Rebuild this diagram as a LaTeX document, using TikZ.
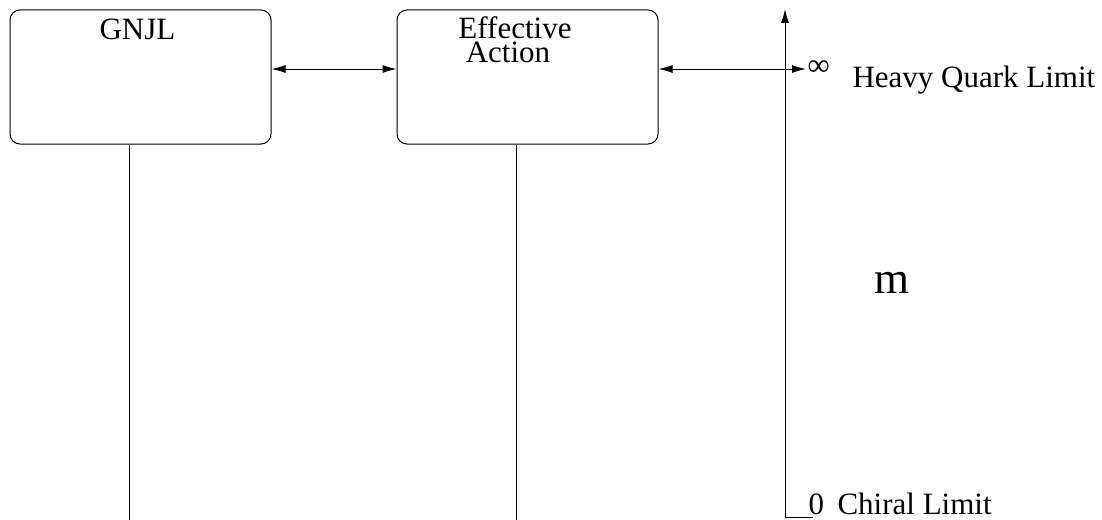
\documentclass[tikz,border=0pt]{standalone}
\usepackage{fontspec}
\setmainfont{Liberation Serif}
\usetikzlibrary{arrows.meta}

\tikzset{
  modelbox/.style={draw, rounded corners=10pt, minimum width=261pt, minimum height=134pt, inner sep=0pt},
  boxtext/.style={anchor=base, inner sep=0pt, font=\fontsize{31}{31}\selectfont},
  limittext/.style={inner sep=0pt, font=\fontsize{31}{31}\selectfont},
  tip/.style={-{Latex[length=14pt,width=8pt]}},
  biarrow/.style={{Latex[length=14pt,width=8pt]}-{Latex[length=14pt,width=8pt]}}
}

\begin{document}
\begin{tikzpicture}[x=1pt,y=-1pt,line width=1pt]
\useasboundingbox (0,0) rectangle (1102,519);

% boxes
\node[modelbox] (gnjl) at (140.5,77) {};
\node[modelbox] (effact) at (527.5,77) {};
\node[boxtext] (gnjltext) at ([xshift=-3pt,yshift=-30pt]gnjl.north) {GNJL};
\node[boxtext] (efftext) at ([xshift=-12.5pt,yshift=-29pt]effact.north) {Effective};
\node[boxtext] (acttext) at ([xshift=-7pt,yshift=-24pt]efftext.base) {Action};

% mass axis
\coordinate (axbot) at (785,517);
\coordinate (axtop) at (785,9);
\coordinate (stub) at (813,517);
\coordinate (inftyend) at (806,69);
\node[limittext, anchor=west] (infty) at (807,68) {∞};
\node[limittext, anchor=base west] (heavy) at (852,87) {Heavy Quark Limit};
\node[limittext, anchor=base west] (zero) at (808,514) {0};
\node[limittext, anchor=base west] (chiral) at (837,514) {Chiral Limit};
\node[inner sep=0pt, anchor=base, font=\fontsize{45}{45}\selectfont] (mass) at (892,293) {m};

\draw[tip] (axbot) -- (axtop);
\draw (axbot) -- (stub);

% connections
\draw[biarrow] ([yshift=8pt]gnjl.east) -- ([yshift=8pt]effact.west);
\draw[biarrow] ([yshift=8pt]effact.east) -- (inftyend);
\draw ([xshift=-11.5pt]gnjl.south) -- ++(0,375);
\draw ([xshift=-11.5pt]effact.south) -- ++(0,375);
\end{tikzpicture}
\end{document}
